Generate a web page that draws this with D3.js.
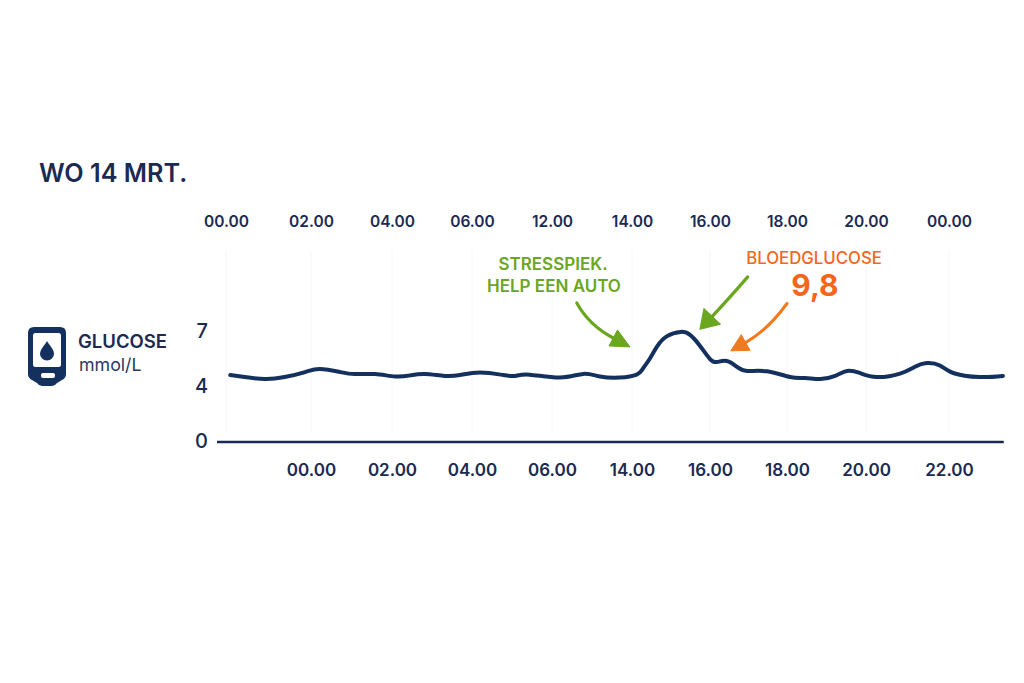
<!DOCTYPE html>
<html><head><meta charset="utf-8">
<script src="https://cdn.jsdelivr.net/npm/d3@7"></script>
<style>
html,body{margin:0;padding:0;background:#fff}
svg{display:block}
text{font-family:Inter,sans-serif}
.tick line,.domain{display:none}
</style></head><body>
<svg id="c" width="1024" height="683"></svg>
<script>
const title = "WO 14 MRT.";
const topTickLabels = ["00.00","02.00","04.00","06.00","12.00","14.00","16.00","18.00","20.00","00.00"];
const bottomTickLabels = ["00.00","02.00","04.00","06.00","14.00","16.00","18.00","20.00","22.00"];
const bottomTickSlots = [1,2,3,4,5,6,7,8,9];
const yTickValues = [0,4,7];
const glucoseSlots = [0.05,0.22,0.46,0.69,0.93,1.11,1.36,1.54,1.79,2.04,2.23,2.41,2.66,2.85,3.10,3.39,3.54,3.72,4.10,4.39,4.60,4.85,5.06,5.14,5.23,5.32,5.45,5.62,5.74,5.87,6.00,6.09,6.22,6.35,6.48,6.74,7.04,7.23,7.42,7.61,7.76,7.92,8.13,8.41,8.59,8.73,8.89,9.05,9.37,9.65];
const glucoseValues = [4.60,4.49,4.38,4.49,4.76,4.93,4.76,4.65,4.65,4.52,4.58,4.65,4.55,4.60,4.74,4.60,4.55,4.62,4.46,4.66,4.52,4.46,4.62,4.95,5.50,6.15,6.72,6.95,6.80,6.20,5.47,5.31,5.36,5.04,4.82,4.80,4.49,4.44,4.38,4.55,4.82,4.71,4.49,4.68,5.05,5.25,5.12,4.71,4.49,4.55];

const x = d3.scaleLinear().domain(d3.range(10)).range([226,311,392,472,552,632,710,787,866,949]);
const y = d3.scaleLinear().domain([0,4,7]).range([441,386,331]);
const svg = d3.select("#c");
const navy="#14305f", ink="#1b2a52", green="#6aa61e", orange="#f5651a", orangeArrow="#f07a20";

// gridlines
svg.append("g").selectAll("line").data(d3.range(10)).join("line")
  .attr("x1",d=>x(d)).attr("x2",d=>x(d)).attr("y1",y(11.4)).attr("y2",y(0)-8)
  .attr("stroke","#f5f6f8").attr("stroke-width",1);

// top axis
const topAxis = svg.append("g").attr("transform","translate(0,227)")
  .call(d3.axisTop(x).tickValues(d3.range(10)).tickSize(0).tickPadding(0).tickFormat(d=>topTickLabels[d]));
topAxis.selectAll("text").attr("font-size",15.5).attr("font-weight",600).attr("fill",ink).style("font-family","Inter");

// bottom axis
const botAxis = svg.append("g").attr("transform","translate(0,476)")
  .call(d3.axisBottom(x).tickValues(bottomTickSlots).tickSize(0).tickPadding(0).tickFormat((d,i)=>bottomTickLabels[i]));
botAxis.selectAll("text").attr("font-size",17).attr("font-weight",600).attr("fill",ink).attr("dy",0).style("font-family","Inter");

// y axis
const yAxis = svg.append("g").attr("transform","translate(208,0)")
  .call(d3.axisLeft(y).tickValues(yTickValues).tickSize(0).tickPadding(0).tickFormat(d3.format("d")));
yAxis.selectAll("text").attr("font-size",20).attr("font-weight",500).attr("fill",ink).style("font-family","Inter");

// baseline
svg.append("line").attr("x1",x(-0.106)).attr("x2",x(9.66)).attr("y1",y(0)+1).attr("y2",y(0)+1)
  .attr("stroke",ink).attr("stroke-width",2.4);

// series
const pts = glucoseSlots.map((s,i)=>[s,glucoseValues[i]]);
svg.append("path").datum(pts)
  .attr("d",d3.line().x(d=>x(d[0])).y(d=>y(d[1])).curve(d3.curveNatural))
  .attr("fill","none").attr("stroke",navy).attr("stroke-width",4).attr("stroke-linecap","round");

// title
svg.append("text").attr("x",39).attr("y",182).text(title)
  .attr("font-size",25.2).attr("font-weight",600).attr("fill",ink);

// unit icon
const icon = svg.append("g").attr("fill",navy);
icon.append("path").attr("d","M34 327H60Q66 327 66 333V374Q66 378 62 380L57 383Q55 386 52 386H42Q39 386 37 383L32 380Q28 378 28 374V333Q28 327 34 327Z");
icon.append("rect").attr("x",33).attr("y",333).attr("width",28).attr("height",34).attr("rx",2.5).attr("fill","#fff");
icon.append("rect").attr("x",41).attr("y",373).attr("width",14).attr("height",5).attr("rx",2).attr("fill","#fff");
icon.append("path").attr("d","M47 341C49 345 54 349 54 354A7 6.5 0 0 1 40 354C40 349 45 345 47 341Z");
svg.append("text").attr("x",78).attr("y",348).text("GLUCOSE").attr("font-size",18.5).attr("font-weight",600).attr("fill",ink);
svg.append("text").attr("x",79).attr("y",371).text("mmol/L").attr("font-size",17.8).attr("font-weight",400).attr("fill","#2b3a60");

// annotations
const notes = [
 {t:"STRESSPIEK.",cx:553,by:270,fs:17,fw:600,c:green},
 {t:"HELP EEN AUTO",cx:554,by:292,fs:17,fw:600,c:green},
 {t:"BLOEDGLUCOSE",cx:814,by:264,fs:16.8,fw:500,c:orange},
 {t:"9,8",cx:815,by:296,fs:30,fw:700,c:orange}
];
svg.append("g").selectAll("text").data(notes).join("text")
  .attr("x",d=>d.cx).attr("y",d=>d.by).attr("text-anchor","middle")
  .attr("font-size",d=>d.fs).attr("font-weight",d=>d.fw).attr("fill",d=>d.c).text(d=>d.t);

const arrows = [
 {from:[4.31,8.53],ctrl:[4.46,7.33],tip:[4.975,6.13],len:19,wid:18,c:green,sw:3.2},
 {from:[6.49,9.95],ctrl:[6.23,8.69],tip:[5.87,7.09],len:18,wid:23,c:green,sw:3.2},
 {from:[7.0,8.5],ctrl:[6.75,7.05],tip:[6.27,5.92],len:17,wid:18,c:orangeArrow,sw:3}
];
arrows.forEach(a=>{
  const [tx,ty]=[x(a.tip[0]),y(a.tip[1])], [fx,fy]=[x(a.from[0]),y(a.from[1])], [cx,cy]=[x(a.ctrl[0]),y(a.ctrl[1])];
  const d=Math.hypot(tx-cx,ty-cy), ux=(tx-cx)/d, uy=(ty-cy)/d;
  const bx=tx-ux*a.len, by=ty-uy*a.len;
  const p=d3.path(); p.moveTo(fx,fy); p.quadraticCurveTo(cx,cy,bx,by);
  svg.append("path").attr("d",p.toString()).attr("fill","none").attr("stroke",a.c).attr("stroke-width",a.sw).attr("stroke-linecap","round");
  const h=a.wid/2;
  svg.append("polygon").attr("points",[[tx,ty],[bx-uy*h,by+ux*h],[bx+uy*h,by-ux*h]].join(" ")).attr("fill",a.c).attr("stroke",a.c).attr("stroke-width",1).attr("stroke-linejoin","round");
});
</script>
</body></html>
